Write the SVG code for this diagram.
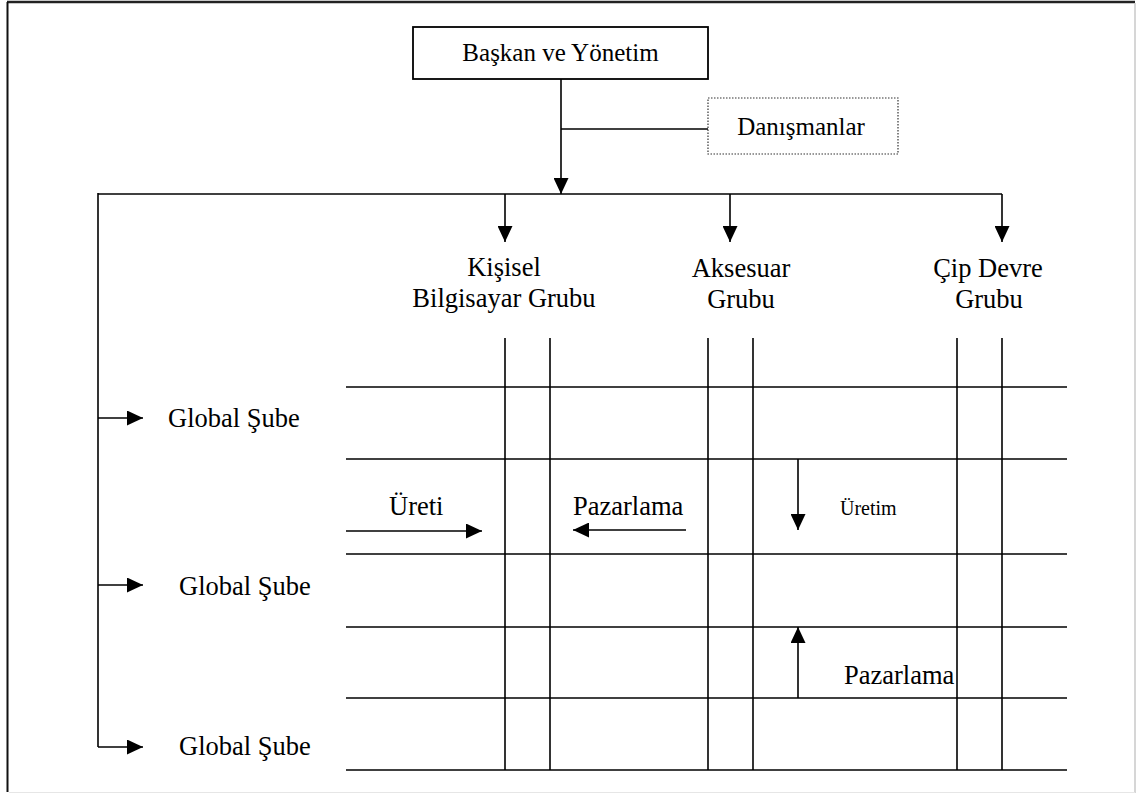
<svg xmlns="http://www.w3.org/2000/svg" width="1136" height="794" viewBox="0 0 1136 794">
  <defs>
    <marker id="arrowL" viewBox="0 0 16 15" refX="16" refY="7.5" markerWidth="16" markerHeight="15" markerUnits="userSpaceOnUse" orient="auto">
      <path d="M0,0 L16,7.5 L0,15 Z" fill="#000"/>
    </marker>
  </defs>
  <style>
    .t { font-family: "Liberation Serif", "Times New Roman", serif; font-size: 25px; fill: #000; }
    .tl { font-family: "Liberation Serif", "Times New Roman", serif; font-size: 26.5px; fill: #000; }
    .ts { font-family: "Liberation Serif", "Times New Roman", serif; font-size: 20px; fill: #000; }
    .ln { stroke: #000; stroke-width: 1.6; fill: none; }
    .ar { stroke: #000; stroke-width: 1.6; fill: none; marker-end: url(#arrowL); }
  </style>

  <rect width="1136" height="794" fill="#fff"/>

  <!-- page frame: dark top/left, light bottom/right -->
  <g id="frame">
    <line x1="7" y1="2" x2="1135" y2="2" stroke="#222" stroke-width="2.5"/>
    <line x1="7.5" y1="2" x2="7.5" y2="792" stroke="#111" stroke-width="2"/>
    <line x1="1135" y1="3" x2="1135" y2="793" stroke="#c8c8c8" stroke-width="1.5"/>
    <line x1="9" y1="792.5" x2="1135" y2="792.5" stroke="#e6e6e6" stroke-width="1"/>
  </g>

  <g id="baskan">
    <rect x="413" y="27" width="295" height="52" fill="#fff" stroke="#000" stroke-width="1.8"/>
    <text class="t" x="560.5" y="61" text-anchor="middle">Başkan ve Yönetim</text>
  </g>

  <g id="danismanlar">
    <rect x="708" y="98" width="190" height="56" fill="#fff" stroke="#333" stroke-width="1.2" stroke-dasharray="1.5,1.5"/>
    <text class="t" x="801" y="135" text-anchor="middle">Danışmanlar</text>
  </g>

  <g id="kisisel">
    <text class="tl" x="504" y="276" text-anchor="middle">Kişisel</text>
    <text class="tl" x="504" y="307" text-anchor="middle">Bilgisayar Grubu</text>
  </g>
  <g id="aksesuar">
    <text class="tl" x="741" y="277" text-anchor="middle">Aksesuar</text>
    <text class="tl" x="741" y="308" text-anchor="middle">Grubu</text>
  </g>
  <g id="cip">
    <text class="tl" x="988" y="277" text-anchor="middle">Çip Devre</text>
    <text class="tl" x="989" y="308" text-anchor="middle">Grubu</text>
  </g>

  <g id="sube1"><text class="tl" x="168" y="427">Global Şube</text></g>
  <g id="sube2"><text class="tl" x="179" y="595">Global Şube</text></g>
  <g id="sube3"><text class="tl" x="179" y="755">Global Şube</text></g>

  <g id="flow-labels">
    <text class="tl" x="389" y="515">Üreti</text>
    <text class="tl" x="573" y="515">Pazarlama</text>
    <text class="ts" x="840" y="515">Üretim</text>
    <text class="tl" x="844" y="684">Pazarlama</text>
  </g>

  <!-- matrix grid -->
  <g id="grid">
    <line class="ln" x1="346" y1="387" x2="1067" y2="387"/>
    <line class="ln" x1="346" y1="459" x2="1067" y2="459"/>
    <line class="ln" x1="346" y1="554" x2="1067" y2="554"/>
    <line class="ln" x1="346" y1="627" x2="1067" y2="627"/>
    <line class="ln" x1="346" y1="698" x2="1067" y2="698"/>
    <line class="ln" x1="346" y1="770" x2="1067" y2="770"/>
    <line class="ln" x1="505" y1="338" x2="505" y2="770"/>
    <line class="ln" x1="550" y1="338" x2="550" y2="770"/>
    <line class="ln" x1="708" y1="338" x2="708" y2="770"/>
    <line class="ln" x1="753" y1="338" x2="753" y2="770"/>
    <line class="ln" x1="957" y1="338" x2="957" y2="770"/>
    <line class="ln" x1="1002" y1="338" x2="1002" y2="770"/>
  </g>

  <g id="connectors">
    <!-- management to divisions -->
    <line class="ar" x1="561" y1="79" x2="561" y2="194"/>
    <line class="ln" x1="561" y1="129" x2="708" y2="129"/>
    <line class="ln" x1="98" y1="194" x2="1002" y2="194"/>
    <line class="ar" x1="505" y1="194" x2="505" y2="242"/>
    <line class="ar" x1="730" y1="194" x2="730" y2="242"/>
    <line class="ar" x1="1002" y1="194" x2="1002" y2="242"/>
    <!-- branches to the global units -->
    <line class="ln" x1="98" y1="193" x2="98" y2="747"/>
    <line class="ar" x1="98" y1="418" x2="143" y2="418"/>
    <line class="ar" x1="98" y1="585" x2="143" y2="585"/>
    <line class="ar" x1="98" y1="747" x2="143" y2="747"/>
    <!-- functional flows -->
    <line class="ar" x1="346" y1="531" x2="482" y2="531"/>
    <line class="ar" x1="686" y1="530" x2="573" y2="530"/>
    <line class="ar" x1="798" y1="459" x2="798" y2="530"/>
    <line class="ar" x1="798" y1="698" x2="798" y2="627"/>
  </g>
</svg>
